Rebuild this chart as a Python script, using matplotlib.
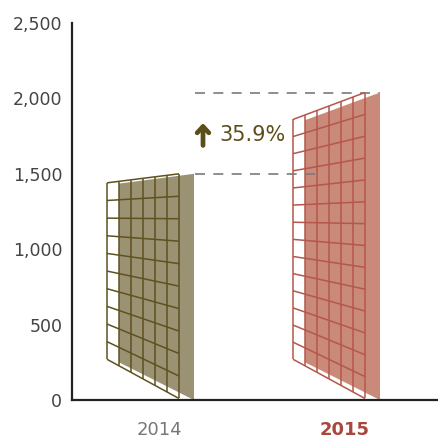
import matplotlib
matplotlib.use('Agg')
import matplotlib.pyplot as plt
import numpy as np

# values
years = ['2014', '2015']
values = [1500, 2039]
change_label = '35.9%'

fill_colors = ['#9b9274', '#c98a7a']
line_colors = ['#5e5220', '#b5574a']
label_colors = ['#777777', '#a8473c']
label_weights = ['normal', 'bold']

fig = plt.figure(figsize=(4.38, 4.41), dpi=100)
ax = fig.add_axes([72 / 438, 41 / 441, 1 - 72 / 438, (400 - 23) / 441])
ax.set_xlim(0, 366)
ax.set_ylim(0, 2500)

step = 186
first_left = 35
grid_w = 72
n_cols = 6
row_size = 150


def quad(x0, x1, bl, tl, br, tr):
    return [x0, x0, x1, x1], [bl, tl, tr, br]


for i, v in enumerate(values):
    left = first_left + i * step
    # back filled panel
    xs, ys = quad(left + 12, left + 87, 250, 0.78 * v + 265, 0, v)
    ax.fill(xs, ys, color=fill_colors[i], lw=0, zorder=2)
    # front wire grid
    x0, x1 = left, left + grid_w
    bl, tl, br, tr = 270, 270 + 0.78 * v, 10, v
    for t in np.linspace(0, 1, n_cols + 1):
        x = x0 + t * (x1 - x0)
        b = bl + t * (br - bl)
        top = tl + t * (tr - tl)
        ax.plot([x, x], [b, top], color=line_colors[i], lw=1.1, zorder=3,
                solid_capstyle='butt')
    n_rows = int(round(v / row_size))
    for s in np.linspace(0, 1, n_rows + 1):
        ax.plot([x0, x1], [bl + s * (tl - bl), br + s * (tr - br)],
                color=line_colors[i], lw=1.1, zorder=3, solid_capstyle='butt')

# dashed reference lines
ax.plot([123, 246], [values[0], values[0]], color='#7a7a7a', lw=1.2,
        linestyle=(0, (6, 5)), zorder=4)
ax.plot([123, 308], [values[1], values[1]], color='#7a7a7a', lw=1.2,
        linestyle=(0, (6, 5)), zorder=1)

# change annotation
mid = (values[0] + values[1]) / 2
ax.annotate('', xy=(131, mid + 85), xytext=(131, mid - 100),
            arrowprops=dict(arrowstyle='->, head_length=0.45, head_width=0.42',
                            color='#5b4e1a', lw=3.4))
ax.text(147, mid - 10, change_label, fontsize=15, color='#5b4e1a',
        va='center', ha='left')

# axes styling
for side in ['top', 'right']:
    ax.spines[side].set_visible(False)
for side in ['left', 'bottom']:
    ax.spines[side].set_linewidth(1.6)
    ax.spines[side].set_color('#222222')

ax.set_yticks([0, 500, 1000, 1500, 2000, 2500])
ax.set_yticklabels(['0', '500', '1,000', '1,500', '2,000', '2,500'])
ax.tick_params(axis='y', length=0, pad=7, labelsize=12.5, labelcolor='#444444')

ax.set_xticks([first_left + 52 + i * step for i in range(len(years))])
ax.set_xticklabels(years)
ax.tick_params(axis='x', length=0, pad=15, labelsize=13)
for lab, c, w in zip(ax.get_xticklabels(), label_colors, label_weights):
    lab.set_color(c)
    lab.set_fontweight(w)

fig.savefig('out.png', dpi=100)
